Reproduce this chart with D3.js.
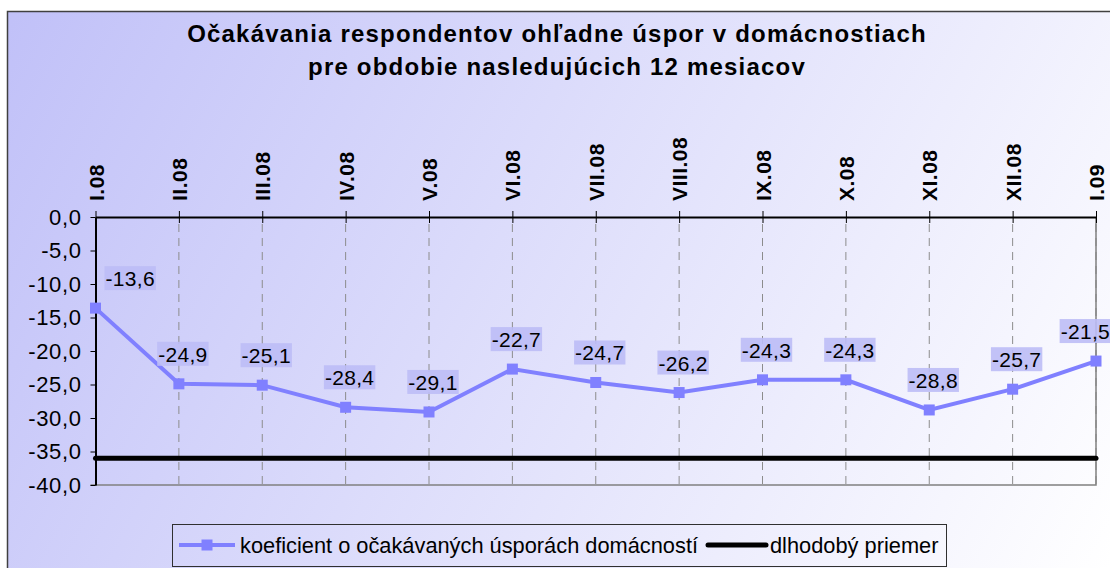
<!DOCTYPE html>
<html>
<head>
<meta charset="utf-8">
<script src="https://cdn.jsdelivr.net/npm/d3@7"></script>
<style>
  body { margin: 0; background: #fff; }
  svg { display: block; font-family: "Liberation Sans", Arial, sans-serif; }
</style>
</head>
<body>
<div class="chart"></div>
<script>
// chart data
var months = ["I.08", "II.08", "III.08", "IV.08", "V.08", "VI.08", "VII.08",
  "VIII.08", "IX.08", "X.08", "XI.08", "XII.08", "I.09"];
var coefValues = [-13.6, -24.9, -25.1, -28.4, -29.1, -22.7, -24.7, -26.2, -24.3, -24.3, -28.8, -25.7, -21.5];
var longTermMean = -36.0;
var yTicks = [0, -5, -10, -15, -20, -25, -30, -35, -40];
var titleLines = ["Očakávania respondentov ohľadne úspor v domácnostiach",
  "pre obdobie nasledujúcich 12 mesiacov"];
var seriesNames = ["koeficient o očakávaných úsporách domácností", "dlhodobý priemer"];

var svgWidth = 1110;
var svgHeight = 568;

var margin = { top: 217, right: 14, bottom: 83, left: 95.5 };
var width = svgWidth - margin.left - margin.right;
var height = svgHeight - margin.top - margin.bottom;

var seriesColor = "#8080ff";

var locale = d3.formatLocale({ decimal: ",", thousands: " ", grouping: [3], currency: ["", ""], minus: "-" });
var fmt = locale.format(".1f");

var svg = d3.select(".chart")
  .append("svg")
  .attr("width", svgWidth)
  .attr("height", svgHeight);

// background gradient
var grad = svg.append("defs").append("linearGradient")
  .attr("id", "bg")
  .attr("gradientUnits", "userSpaceOnUse")
  .attr("x1", 0).attr("y1", 0)
  .attr("x2", svgWidth).attr("y2", svgHeight);
grad.append("stop").attr("offset", "0%").attr("stop-color", "#c0c0f8");
grad.append("stop").attr("offset", "100%").attr("stop-color", "#ffffff");

svg.append("rect")
  .attr("x", 7.5).attr("y", 11.5)
  .attr("width", svgWidth).attr("height", svgHeight)
  .attr("fill", "url(#bg)")
  .attr("stroke", "#404040")
  .attr("stroke-width", 1.5);

// title
svg.append("g").selectAll("text")
  .data(titleLines)
  .enter()
  .append("text")
  .attr("x", 557)
  .attr("y", (d, i) => 42 + i * 33)
  .attr("text-anchor", "middle")
  .attr("font-size", "24px")
  .attr("font-weight", "bold")
  .attr("letter-spacing", "1.2px")
  .attr("fill", "#000")
  .text(d => d);

var chartGroup = svg.append("g")
  .attr("transform", `translate(${margin.left}, ${margin.top})`);

var xScale = d3.scalePoint()
  .domain(months)
  .range([0, width]);

var yScale = d3.scaleLinear()
  .domain([-40, 0])
  .range([height, 0]);

// dashed gridlines
chartGroup.append("g")
  .selectAll("line")
  .data(months.slice(1))
  .enter()
  .append("line")
  .attr("x1", d => xScale(d))
  .attr("x2", d => xScale(d))
  .attr("y1", 7)
  .attr("y2", height)
  .attr("stroke", "#8c8c8c")
  .attr("stroke-dasharray", "8,6");

// plot border (bottom, right)
chartGroup.append("path")
  .attr("d", `M-5,${height}H${width}V0`)
  .attr("fill", "none")
  .attr("stroke", "#808080")
  .attr("stroke-width", 1.5);

// top category axis
var topAxis = chartGroup.append("g")
  .call(d3.axisTop(xScale).tickSize(6).tickSizeOuter(0));
topAxis.select(".domain").attr("stroke", "#000").attr("stroke-width", 2);
topAxis.selectAll(".tick line").attr("y1", 6).attr("y2", -6).attr("stroke", "#000");
topAxis.selectAll(".tick text")
  .attr("transform", "rotate(-90)")
  .attr("text-anchor", "start")
  .attr("x", 16)
  .attr("y", 7.5)
  .attr("dy", 0)
  .attr("font-size", "21px")
  .attr("letter-spacing", "0.5px")
  .attr("font-weight", "bold")
  .attr("fill", "#000");

// left value axis
var leftAxis = chartGroup.append("g")
  .call(d3.axisLeft(yScale).tickValues(yTicks).tickFormat(fmt).tickSize(5).tickSizeOuter(0));
leftAxis.select(".domain").attr("stroke", "#000").attr("stroke-width", 2);
leftAxis.selectAll(".tick line").attr("stroke", "#000");
leftAxis.selectAll(".tick text")
  .attr("x", -14)
  .attr("font-size", "22px")
  .attr("letter-spacing", "0.6px")
  .attr("fill", "#000");

// long-term mean
chartGroup.append("line")
  .attr("x1", 0)
  .attr("x2", width)
  .attr("y1", yScale(longTermMean))
  .attr("y2", yScale(longTermMean))
  .attr("stroke", "#000")
  .attr("stroke-width", 5)
  .attr("stroke-linecap", "round");

// series line
var line = d3.line()
  .x((d, i) => xScale(months[i]))
  .y(d => yScale(d));

chartGroup.append("path")
  .datum(coefValues)
  .attr("d", line)
  .attr("fill", "none")
  .attr("stroke", seriesColor)
  .attr("stroke-width", 4);

chartGroup.selectAll("rect.marker")
  .data(coefValues)
  .enter()
  .append("rect")
  .attr("class", "marker")
  .attr("x", (d, i) => xScale(months[i]) - 5.5)
  .attr("y", d => yScale(d) - 5.5)
  .attr("width", 11)
  .attr("height", 11)
  .attr("fill", seriesColor);

// data labels
var labels = chartGroup.append("g")
  .selectAll("g")
  .data(coefValues)
  .enter()
  .append("g");

labels.append("rect").attr("class", "lbl-bg");
labels.append("text")
  .attr("font-size", "21px")
  .attr("letter-spacing", "0.3px")
  .attr("text-anchor", "middle")
  .attr("fill", "#000")
  .text(d => fmt(d));

labels.each(function (d, i) {
  var g = d3.select(this);
  var bb = g.select("text").node().getBBox();
  var w = bb.width + 2;
  var cx = xScale(months[i]) + 4;
  cx = Math.max(cx, w / 2 + 9);
  cx = Math.min(cx, svgWidth - margin.left - w / 2 + 1);
  var cy = yScale(d) - 30;
  g.select("text").attr("x", cx).attr("y", cy + 8);
  g.select("rect")
    .attr("x", cx - w / 2)
    .attr("y", cy - 12)
    .attr("width", w)
    .attr("height", 24)
    .attr("fill", "#bcbcf6")
    .attr("opacity", 0.9);
});

// legend
var legend = svg.append("g").attr("transform", "translate(172, 524)");
legend.append("rect")
  .attr("x", 0.5).attr("y", 0.5)
  .attr("width", 774).attr("height", 42)
  .attr("fill", "none")
  .attr("stroke", "#303030")
  .attr("stroke-width", 1);

legend.append("line")
  .attr("x1", 7).attr("x2", 63).attr("y1", 21).attr("y2", 21)
  .attr("stroke", seriesColor).attr("stroke-width", 4);
legend.append("rect")
  .attr("x", 35 - 5.5).attr("y", 21 - 5.5)
  .attr("width", 11).attr("height", 11)
  .attr("fill", seriesColor);
legend.append("text")
  .attr("x", 68).attr("y", 21).attr("dy", "0.35em")
  .attr("font-size", "21.8px")
  .text(seriesNames[0]);

legend.append("line")
  .attr("x1", 536).attr("x2", 594).attr("y1", 21).attr("y2", 21)
  .attr("stroke", "#000").attr("stroke-width", 5).attr("stroke-linecap", "round");
legend.append("text")
  .attr("x", 598).attr("y", 21).attr("dy", "0.35em")
  .attr("font-size", "21.8px")
  .text(seriesNames[1]);
</script>
</body>
</html>
